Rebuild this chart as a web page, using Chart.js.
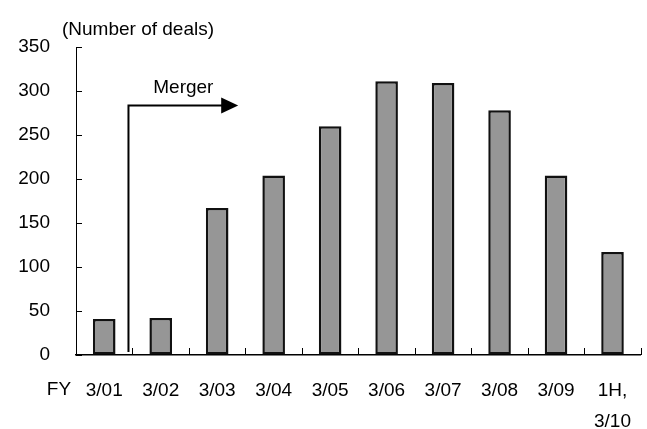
<!DOCTYPE html>
<html>
<head>
<meta charset="utf-8">
<script src="https://cdn.jsdelivr.net/npm/chart.js@4/dist/chart.umd.min.js"></script>
<style>
  html, body { margin: 0; padding: 0; background: #fff; overflow: hidden; }
  #wrap { width: 652px; height: 429px; }
</style>
</head>
<body>
<div id="wrap"><canvas id="dealsChart"></canvas></div>
<script>
// fiscal years (last one is first half of FY3/10)
var years = ['3/01', '3/02', '3/03', '3/04', '3/05', '3/06', '3/07', '3/08', '3/09', ['1H,', '3/10']];
var deals = [41, 42, 167, 204, 260, 311, 309, 278, 204, 117];
var yTicks = [0, 50, 100, 150, 200, 250, 300, 350];

var FONT = '"Liberation Sans", Arial, sans-serif';

// extra drawing: inward ticks, FY label, unit label, merger arrow
var extras = {
    id: 'extras',
    afterDraw: function (chart) {
        var ctx = chart.ctx;
        var area = chart.chartArea;
        var xs = chart.scales.x;
        var ys = chart.scales.y;
        ctx.save();
        ctx.strokeStyle = '#000';
        ctx.lineWidth = 1;

        // y ticks pointing into the plot
        yTicks.forEach(function (v) {
            var y = Math.round(ys.getPixelForValue(v)) + 0.5;
            ctx.beginPath();
            ctx.moveTo(area.left, y);
            ctx.lineTo(area.left + 6, y);
            ctx.stroke();
        });

        // x ticks between categories, pointing up
        var half = (xs.getPixelForValue(1) - xs.getPixelForValue(0)) / 2;
        for (var i = 0; i < years.length; i++) {
            var x = Math.round(xs.getPixelForValue(i) + half) + 0.5;
            ctx.beginPath();
            ctx.moveTo(x, area.bottom);
            ctx.lineTo(x, area.bottom - 7);
            ctx.stroke();
        }

        ctx.fillStyle = '#000';
        ctx.font = '19px ' + FONT;
        ctx.textBaseline = 'middle';
        ctx.textAlign = 'center';
        ctx.fillText('FY', 59, 390);
        ctx.textAlign = 'left';
        ctx.fillText('(Number of deals)', 62, 30);

        // merger arrow
        var ax = xs.getPixelForValue(0) + half - 4;
        var ay = Math.round(ys.getPixelForValue(284)) + 0.5;
        var endX = xs.getPixelForValue(2) + 5;
        ctx.lineWidth = 2;
        ctx.beginPath();
        ctx.moveTo(ax, area.bottom - 3);
        ctx.lineTo(ax, ay);
        ctx.lineTo(endX, ay);
        ctx.stroke();
        ctx.beginPath();
        ctx.moveTo(endX - 1, ay - 8);
        ctx.lineTo(endX + 16, ay);
        ctx.lineTo(endX - 1, ay + 8);
        ctx.closePath();
        ctx.fill();
        ctx.textAlign = 'center';
        ctx.fillText('Merger', (ax + endX + 16) / 2, ay - 18);
        ctx.restore();
    }
};

new Chart(document.getElementById('dealsChart'), {
    type: 'bar',
    data: {
        labels: years,
        datasets: [{
            label: 'Number of deals',
            data: deals,
            backgroundColor: '#969696',
            borderColor: '#111',
            borderWidth: 2.5,
            borderSkipped: false,
            barPercentage: 0.4,
            categoryPercentage: 1
        }]
    },
    options: {
        responsive: true,
        maintainAspectRatio: false,
        animation: false,
        layout: { padding: { top: 47, left: 0, right: 0, bottom: 0 } },
        plugins: {
            legend: { display: false },
            tooltip: { enabled: false }
        },
        scales: {
            x: {
                grid: { drawOnChartArea: false, drawTicks: false },
                border: { display: true, color: '#000', width: 1.5 },
                ticks: {
                    color: '#000',
                    padding: 21,
                    maxRotation: 0,
                    autoSkip: false,
                    font: { family: FONT, size: 19, lineHeight: 1.6 }
                },
                afterFit: function (s) { s.height = 74; }
            },
            y: {
                min: 0,
                max: 350,
                afterBuildTicks: function (s) {
                    s.ticks = yTicks.map(function (v) { return { value: v }; });
                },
                grid: { drawOnChartArea: false, drawTicks: false },
                border: { display: true, color: '#000', width: 1 },
                ticks: {
                    color: '#000',
                    padding: 26,
                    font: { family: FONT, size: 19 }
                },
                afterFit: function (s) { s.width = 76; }
            }
        }
    },
    plugins: [extras]
});
</script>
</body>
</html>
